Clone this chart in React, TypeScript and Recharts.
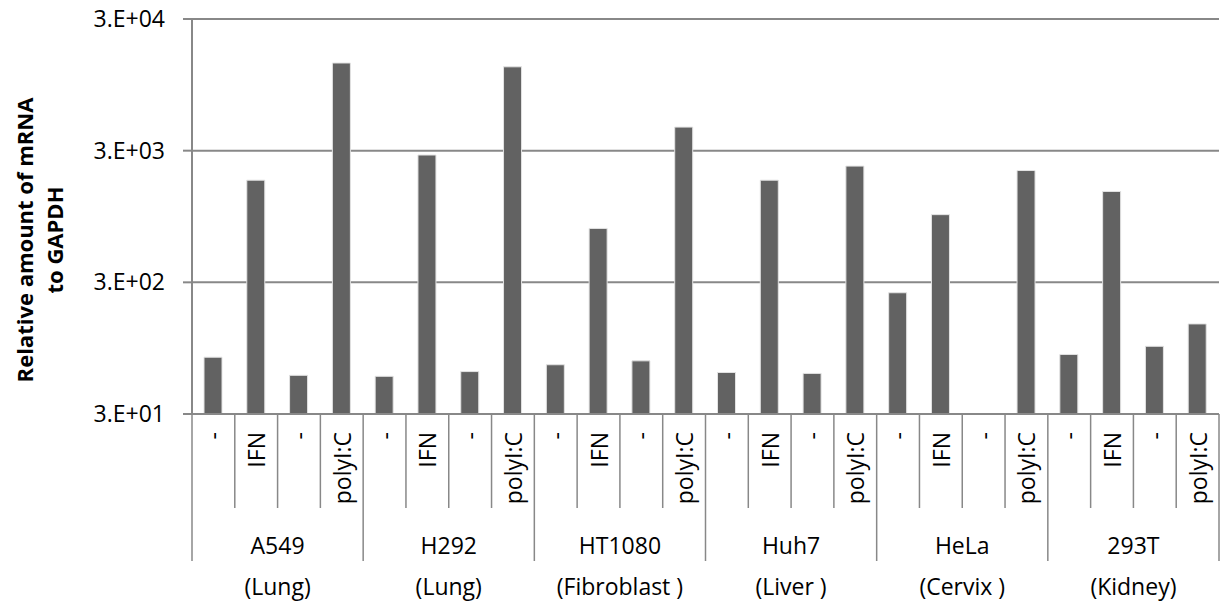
import { BarChart, Bar, XAxis, YAxis, CartesianGrid, Label } from "recharts";

const cellLines = ["A549", "H292", "HT1080", "Huh7", "HeLa", "293T"];
const tissues = ["(Lung)", "(Lung)", "(Fibroblast )", "(Liver )", "(Cervix )", "(Kidney)"];
const treatments = ["-", "IFN", "-", "polyI:C"];

// relative mRNA per cell line, in treatment order
const a549 = [81, 1790, 59, 13900];
const h292 = [58, 2780, 63, 13000];
const ht1080 = [71, 770, 76, 4530];
const huh7 = [62, 1790, 61, 2290];
const hela = [250, 980, 29, 2120];
const t293 = [85, 1470, 98, 145];

const yTicks = [30, 300, 3000, 30000];
const yTickLabels = ["3.E+01", "3.E+02", "3.E+03", "3.E+04"];

const groups = [a549, h292, ht1080, huh7, hela, t293];
const data = groups.flatMap((vals, g) =>
  vals.map((v, j) => ({
    key: `${cellLines[g]}-${j}`,
    cell: cellLines[g],
    tissue: tissues[g],
    treatment: treatments[j],
    value: v,
  }))
);

const W = 1228;
const H = 603;
const LEFT = 192;
const RIGHT = 1219;
const BAND = (RIGHT - LEFT) / data.length;
const GRID = "#888888";
const FONT = "'Open Sans', sans-serif";
const FS = 23;

const CategoryTick = (props: any) => {
  const { x, y, payload } = props;
  const i = props.index ?? payload.index;
  const row = data[i];
  const left = x - BAND / 2;
  const groupStart = i % 4 === 0;
  return (
    <g>
      <line x1={left} y1={y} x2={left} y2={y + (groupStart ? 147 : 94)} stroke={GRID} strokeWidth={1.5} />
      {i === data.length - 1 && (
        <line x1={left + BAND} y1={y} x2={left + BAND} y2={y + 147} stroke={GRID} strokeWidth={1.5} />
      )}
      <text
        transform={`translate(${x},${y + 18}) rotate(-90)`}
        textAnchor="end"
        dominantBaseline="central"
        fontSize={FS}
        fontFamily={FONT}
        fill="#000"
      >
        {row.treatment}
      </text>
      {groupStart && (
        <>
          <text x={left + 2 * BAND} y={y + 131} textAnchor="middle" dominantBaseline="central" fontSize={FS} fontFamily={FONT} fill="#000">
            {row.cell}
          </text>
          <text x={left + 2 * BAND} y={y + 172} textAnchor="middle" dominantBaseline="central" fontSize={FS} fontFamily={FONT} fill="#000">
            {row.tissue}
          </text>
        </>
      )}
    </g>
  );
};

const YTitle = () => (
  <g fontFamily={FONT} fontWeight="bold" fontSize={22} fill="#000">
    <text transform="translate(33,240) rotate(-90)" textAnchor="middle">
      Relative amount of mRNA
    </text>
    <text transform="translate(63,240) rotate(-90)" textAnchor="middle">
      to GAPDH
    </text>
  </g>
);

export default function App() {
  return (
    <div style={{ position: "absolute", left: 0, top: 0, width: W, height: H, background: "#fff" }}>
      <BarChart width={W} height={H} data={data} margin={{ top: 19, right: W - RIGHT, left: 0, bottom: 0 }}>
        <CartesianGrid vertical={false} stroke={GRID} strokeWidth={2} />
        <XAxis
          dataKey="key"
          interval={0}
          height={189}
          tickLine={false}
          tickSize={0}
          tickMargin={0}
          axisLine={{ stroke: GRID, strokeWidth: 2 }}
          tick={<CategoryTick />}
        />
        <YAxis
          scale="log"
          domain={[30, 30000]}
          ticks={yTicks}
          allowDataOverflow
          width={LEFT}
          tickSize={9}
          tickMargin={18}
          tickLine={{ stroke: GRID, strokeWidth: 2 }}
          axisLine={{ stroke: GRID, strokeWidth: 2 }}
          tick={{ fill: "#000", fontSize: FS, fontFamily: FONT }}
          tickFormatter={(v: number) => yTickLabels[yTicks.indexOf(v)] ?? ""}
        >
          <Label content={<YTitle />} />
        </YAxis>
        <Bar dataKey="value" fill="#626262" stroke="#e3e3e3" strokeWidth={1} barSize={18} isAnimationActive={false} />
      </BarChart>
    </div>
  );
}
